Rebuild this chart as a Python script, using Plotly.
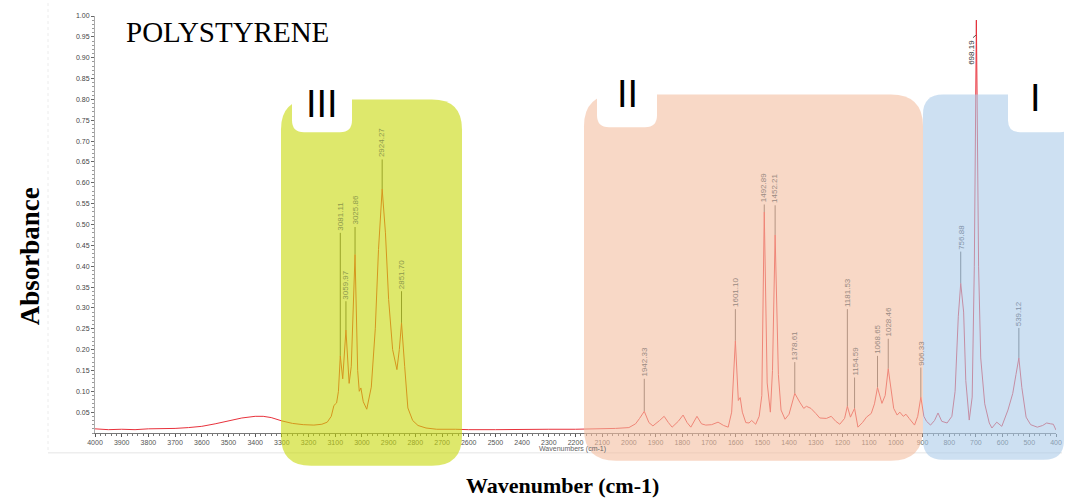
import plotly.graph_objects as go

# ---------------- data ----------------
wavenumber = [4000, 3950, 3900, 3850, 3800, 3750, 3700, 3650, 3600, 3550, 3500, 3450, 3400, 3370, 3340,
              3300, 3260, 3220, 3180, 3150, 3130, 3115, 3105, 3095, 3088, 3081.11, 3072, 3059.97, 3048,
              3040, 3025.86, 3016, 3010, 3004, 2995, 2982, 2965, 2950, 2938, 2924.27, 2912, 2900, 2885,
              2869, 2860, 2851.70, 2840, 2828, 2810, 2790, 2760, 2720, 2650, 2600, 2500, 2400, 2300, 2200,
              2100, 2050, 2000, 1975, 1960, 1942.33, 1925, 1910, 1885, 1868, 1852, 1838, 1815, 1797, 1782,
              1768, 1745, 1728, 1712, 1690, 1666, 1645, 1628, 1615, 1601.10, 1590, 1583, 1575, 1562, 1550,
              1540, 1525, 1512, 1502, 1492.89, 1482, 1470, 1462, 1452.21, 1440, 1430, 1415, 1400, 1390,
              1378.61, 1360, 1345, 1335, 1318, 1300, 1285, 1260, 1242, 1225, 1210, 1192, 1181.53, 1170,
              1154.59, 1142, 1125, 1110, 1092, 1080, 1068.65, 1052, 1040, 1028.46, 1017, 1008, 995, 985,
              972, 962, 950, 930, 918, 906.33, 895, 885, 870, 855, 842, 828, 808, 790, 778, 766, 756.88,
              746, 738, 725, 714, 706, 698.19, 690, 682, 667, 650, 640, 622, 603, 580, 562, 550, 539.12,
              528, 512, 495, 470, 450, 435, 420, 410, 400]
absorbance = [0.010, 0.008, 0.009, 0.008, 0.010, 0.010, 0.011, 0.013, 0.016, 0.022, 0.029, 0.036, 0.040, 0.040, 0.037,
              0.029, 0.023, 0.020, 0.019, 0.021, 0.026, 0.040, 0.066, 0.072, 0.100, 0.185, 0.130, 0.247, 0.119,
              0.160, 0.428, 0.150, 0.100, 0.108, 0.075, 0.057, 0.110, 0.250, 0.440, 0.585, 0.480, 0.320, 0.200,
              0.152, 0.200, 0.264, 0.160, 0.060, 0.030, 0.018, 0.012, 0.009, 0.009, 0.008, 0.008, 0.009, 0.009, 0.009,
              0.010, 0.011, 0.013, 0.022, 0.035, 0.052, 0.025, 0.017, 0.030, 0.040, 0.025, 0.014, 0.028, 0.043, 0.025,
              0.014, 0.040, 0.022, 0.019, 0.020, 0.026, 0.018, 0.014, 0.050, 0.221, 0.078, 0.085, 0.050, 0.025, 0.024,
              0.030, 0.021, 0.040, 0.090, 0.530, 0.120, 0.050, 0.150, 0.475, 0.140, 0.055, 0.033, 0.045, 0.070,
              0.095, 0.074, 0.059, 0.064, 0.059, 0.047, 0.036, 0.035, 0.040, 0.028, 0.021, 0.035, 0.064, 0.038,
              0.059, 0.014, 0.025, 0.038, 0.047, 0.070, 0.109, 0.071, 0.090, 0.154, 0.095, 0.059, 0.043, 0.050,
              0.040, 0.045, 0.035, 0.019, 0.040, 0.086, 0.040, 0.028, 0.019, 0.030, 0.048, 0.028, 0.024, 0.040, 0.100, 0.280, 0.359,
              0.290, 0.126, 0.031, 0.086, 0.400, 0.990, 0.400, 0.180, 0.070, 0.024, 0.012, 0.026, 0.016, 0.055, 0.095, 0.140, 0.180,
              0.109, 0.038, 0.020, 0.014, 0.018, 0.024, 0.022, 0.021, 0.007]

peak_wn = [3081.11, 3059.97, 3025.86, 2924.27, 2851.70, 1942.33, 1601.10, 1492.89, 1452.21, 1378.61,
           1181.53, 1154.59, 1068.65, 1028.46, 906.33, 756.88, 539.12]
peak_abs = [0.185, 0.247, 0.428, 0.585, 0.264, 0.052, 0.221, 0.530, 0.475, 0.095,
            0.064, 0.059, 0.109, 0.154, 0.086, 0.359, 0.180]
label_abs = [0.48, 0.316, 0.494, 0.656, 0.34, 0.13, 0.297, 0.548, 0.546, 0.17,
             0.297, 0.133, 0.185, 0.226, 0.157, 0.435, 0.252]
label_region = ["III", "III", "III", "III", "III", "II", "II", "II", "II", "II",
                "II", "II", "II", "II", "II", "I", "I"]

main_peak_wn = 698.19
main_peak_abs = 0.990

y_ticks = [0.05, 0.10, 0.15, 0.20, 0.25, 0.30, 0.35, 0.40, 0.45, 0.50,
           0.55, 0.60, 0.65, 0.70, 0.75, 0.80, 0.85, 0.90, 0.95, 1.00]
x_ticks = [4000, 3900, 3800, 3700, 3600, 3500, 3400, 3300, 3200, 3100, 3000, 2900, 2800, 2700,
           2600, 2500, 2400, 2300, 2200, 2100, 2000, 1900, 1800, 1700, 1600, 1500, 1400, 1300,
           1200, 1100, 1000, 900, 800, 700, 600, 500, 400]

# ---------------- layout helpers (pixel -> paper) ----------------
W, H = 1080, 499
L, R, T, B = 95, 1056, 13, 433


def px(x):
    return (x - L) / (R - L)


def py(y):
    return (B - y) / (B - T)


def rrect(x0, y0, x1, y1, r):
    def P(x, y):
        return f"{px(x):.5f},{py(y):.5f}"
    return (f"M {P(x0 + r, y0)} L {P(x1 - r, y0)} Q {P(x1, y0)} {P(x1, y0 + r)} "
            f"L {P(x1, y1 - r)} Q {P(x1, y1)} {P(x1 - r, y1)} "
            f"L {P(x0 + r, y1)} Q {P(x0, y1)} {P(x0, y1 - r)} "
            f"L {P(x0, y0 + r)} Q {P(x0, y0)} {P(x0 + r, y0)} Z")


fig = go.Figure()

# leader lines
lx, ly = [], []
for w, a, la in zip(peak_wn, peak_abs, label_abs):
    lx += [w, w, None]
    ly += [a, la, None]
lx += [main_peak_wn, main_peak_wn, 711, None]
ly += [main_peak_abs, 0.955, 0.948, None]
fig.add_trace(go.Scatter(x=lx, y=ly, mode="lines", line=dict(color="#555555", width=1),
                         hoverinfo="skip", showlegend=False))

# spectrum
fig.add_trace(go.Scatter(x=wavenumber, y=absorbance, mode="lines",
                         line=dict(color="#e8323c", width=1), showlegend=False))

shapes = []
# faint window borders
shapes.append(dict(type="line", xref="paper", yref="paper", x0=px(48), x1=px(48), y0=py(0), y1=py(453),
                   line=dict(color="#ececec", width=1, dash="dot"), layer="below"))
shapes.append(dict(type="line", xref="paper", yref="paper", x0=px(48), x1=px(1062), y0=py(453), y1=py(453),
                   line=dict(color="#e6e6e6", width=1), layer="below"))

# coloured regions (above trace, translucent)
shapes.append(dict(type="path", xref="paper", yref="paper", path=rrect(281, 97, 462, 466, 30),
                   fillcolor="rgb(200,217,10)", opacity=0.6, line=dict(width=0), layer="above"))
shapes.append(dict(type="path", xref="paper", yref="paper", path=rrect(584, 92, 923, 461, 32),
                   fillcolor="rgb(243,190,160)", opacity=0.6, line=dict(width=0), layer="above"))
shapes.append(dict(type="path", xref="paper", yref="paper", path=rrect(923, 92, 1064, 460, 20),
                   fillcolor="rgb(172,204,234)", opacity=0.6, line=dict(width=0), layer="above"))
# white label boxes
shapes.append(dict(type="path", xref="paper", yref="paper", path=rrect(292, 62, 352, 130, 12),
                   fillcolor="white", line=dict(width=0), layer="above"))
shapes.append(dict(type="path", xref="paper", yref="paper", path=rrect(597, 58, 657, 125, 12),
                   fillcolor="white", line=dict(width=0), layer="above"))
shapes.append(dict(type="path", xref="paper", yref="paper", path=rrect(1008, 62, 1072, 130, 12),
                   fillcolor="white", line=dict(width=0), layer="above"))

annotations = []
region_text_color = {"III": "#8e9a4c", "II": "#9a8a82", "I": "#8494aa"}
for w, la, reg in zip(peak_wn, label_abs, label_region):
    annotations.append(dict(x=w, y=la, xref="x", yref="y", text=f"{w:.2f}", showarrow=False,
                            textangle=-90, xanchor="center", yanchor="bottom",
                            font=dict(family="Liberation Sans", size=8, color=region_text_color[reg])))
annotations.append(dict(x=716, y=0.948, xref="x", yref="y", text=f"{main_peak_wn:.2f}", showarrow=False,
                        textangle=-90, xanchor="center", yanchor="top",
                        font=dict(family="Liberation Sans", size=8, color="#333333")))

# region numerals
for txt, cx, cy in [("III", 322, 102), ("II", 627, 92), ("I", 1035, 96)]:
    annotations.append(dict(x=px(cx), y=py(cy), xref="paper", yref="paper", text=txt, showarrow=False,
                            xanchor="center", yanchor="middle",
                            font=dict(family="Liberation Sans", size=38, color="black")))

# titles
annotations.append(dict(x=px(124), y=py(29), xref="paper", yref="paper", text="POLYSTYRENE", showarrow=False,
                        xanchor="left", yanchor="middle",
                        font=dict(family="Liberation Serif", size=29, color="black")))
annotations.append(dict(x=px(30), y=py(255), xref="paper", yref="paper", text="<b>Absorbance</b>",
                        showarrow=False, textangle=-90, xanchor="center", yanchor="middle",
                        font=dict(family="Liberation Serif", size=27, color="black")))
annotations.append(dict(x=px(562), y=py(486), xref="paper", yref="paper", text="<b>Wavenumber (cm-1)</b>",
                        showarrow=False, xanchor="center", yanchor="middle",
                        font=dict(family="Liberation Serif", size=22, color="black")))
annotations.append(dict(x=px(572), y=py(449), xref="paper", yref="paper", text="Wavenumbers (cm-1)",
                        showarrow=False, xanchor="center", yanchor="middle",
                        font=dict(family="Liberation Sans", size=7, color="#666666")))

fig.update_layout(
    width=W, height=H,
    margin=dict(l=L, r=W - R, t=T, b=H - B, pad=0),
    paper_bgcolor="white", plot_bgcolor="white",
    shapes=shapes, annotations=annotations,
    xaxis=dict(range=[4000, 400], tickvals=x_ticks, ticktext=[str(v) for v in x_ticks],
               showgrid=False, zeroline=False, showline=True, linecolor="#777777", linewidth=1,
               ticks="outside", ticklen=3, tickcolor="#555555",
               tickfont=dict(family="Liberation Sans", size=7, color="#555555"),
               minor=dict(tickmode="linear", tick0=0, dtick=20, ticks="outside", ticklen=2, tickcolor="#777777")),
    yaxis=dict(range=[0, 1.0], tickvals=y_ticks, ticktext=[f"{v:.2f}" for v in y_ticks],
               showgrid=False, zeroline=False, showline=True, linecolor="#aaaaaa", linewidth=1,
               ticks="outside", ticklen=3, tickcolor="#666666",
               tickfont=dict(family="Liberation Sans", size=7, color="#444444"),
               minor=dict(tickmode="linear", tick0=0, dtick=0.01, ticks="outside", ticklen=2, tickcolor="#999999")),
)

fig.write_html("out.html")
